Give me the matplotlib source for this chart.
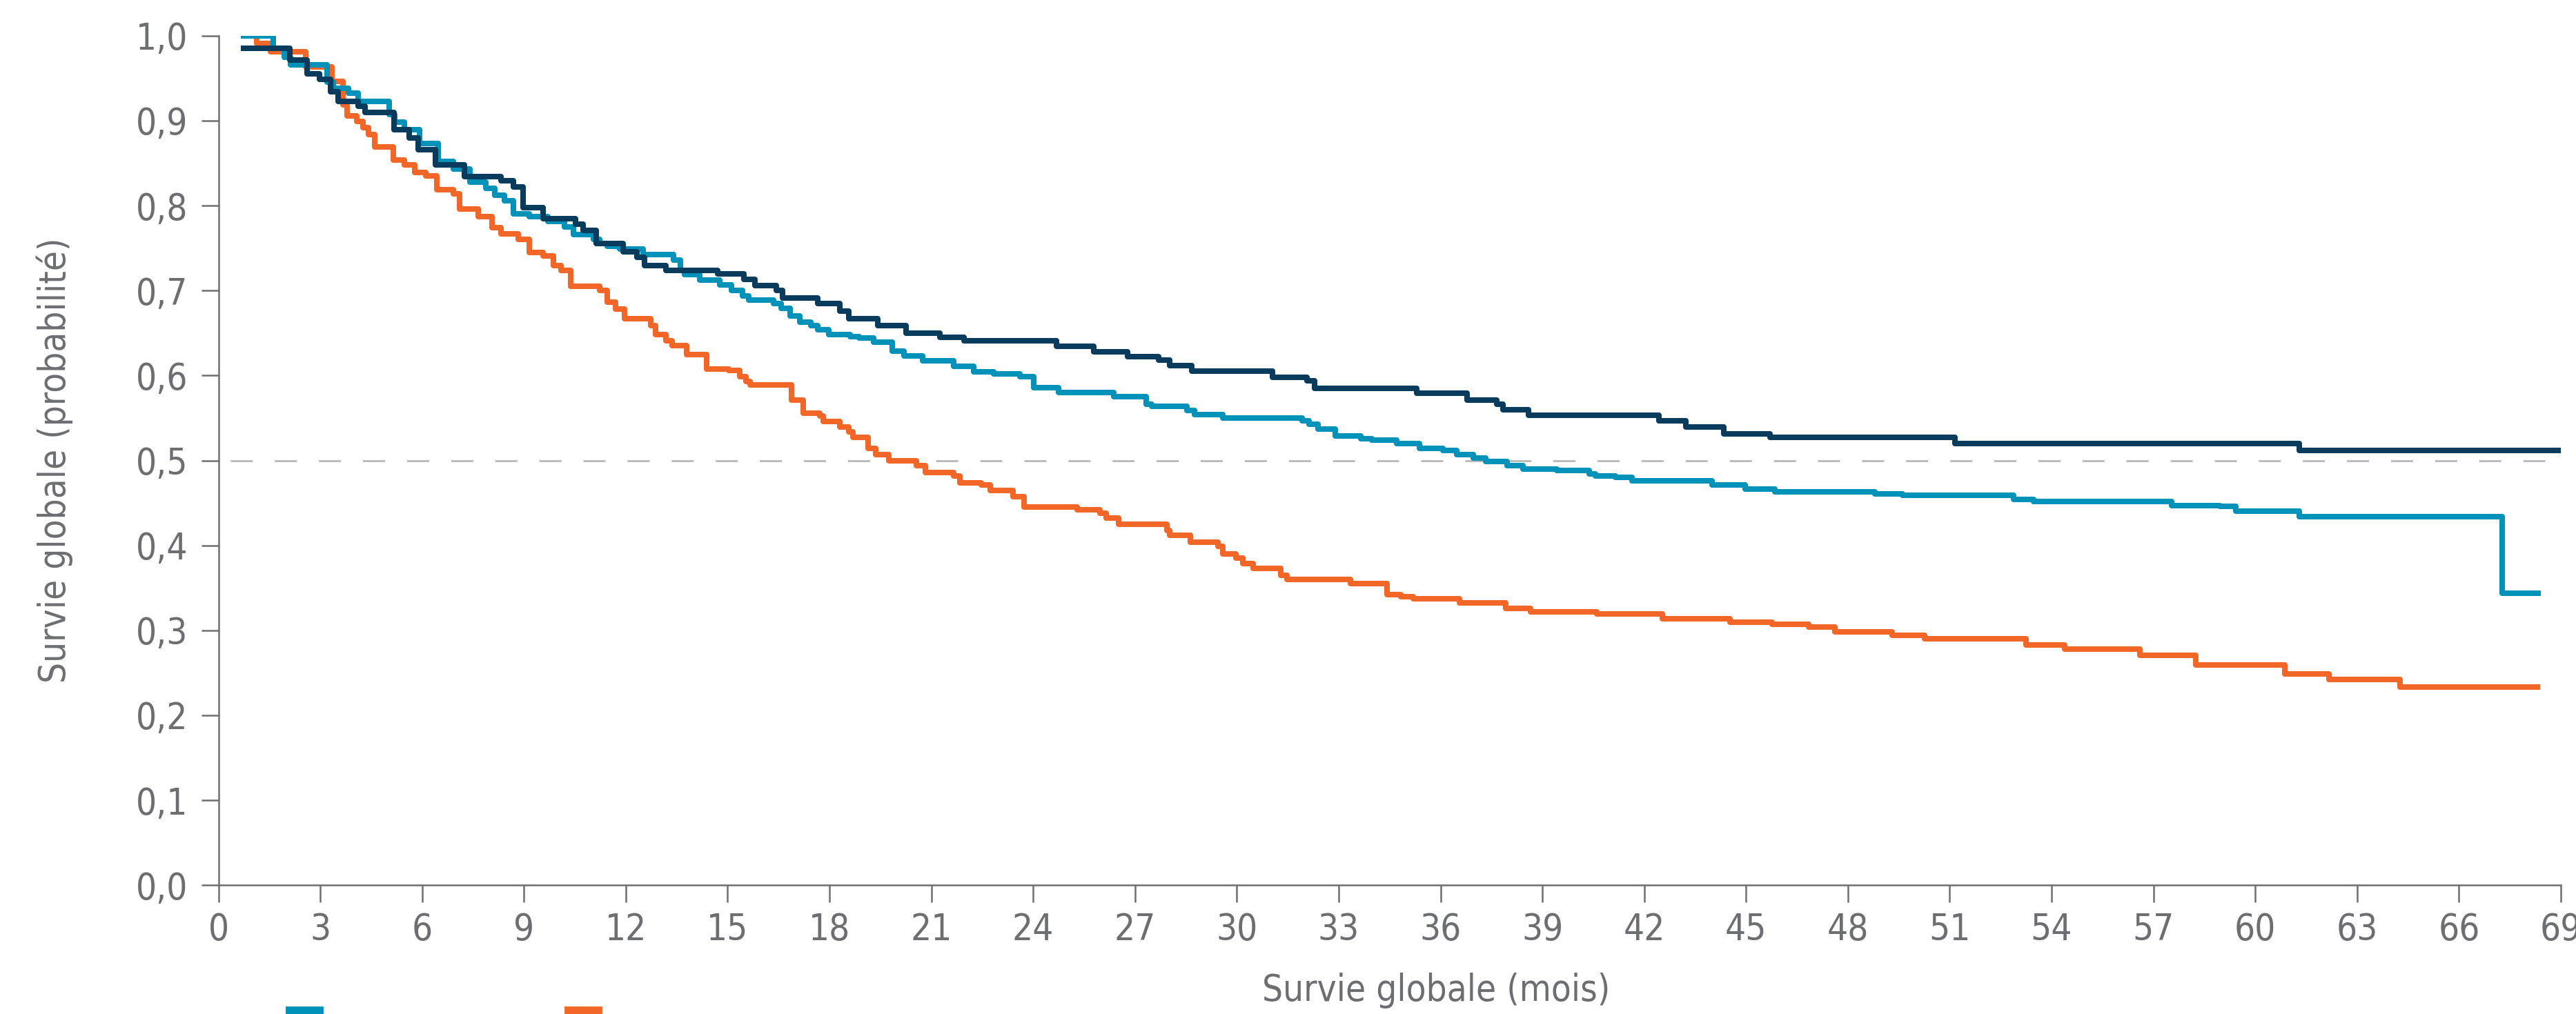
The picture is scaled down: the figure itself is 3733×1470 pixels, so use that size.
import matplotlib
matplotlib.use('Agg')
import matplotlib.pyplot as plt
from matplotlib.patches import Rectangle

# couleurs
navy = '#083b5c'
teal = '#0092b8'
orange = '#f26727'
gris = '#6d6e71'

# courbes de Kaplan-Meier (mois, probabilité)
navy_t = [0.74, 2.10, 2.61, 2.98, 3.30, 3.52, 4.11, 4.31, 5.18, 5.61, 5.88, 6.40, 7.24, 8.33, 8.69,
          8.97, 9.56, 10.51, 10.74, 11.12, 11.92, 12.32, 12.55, 13.19, 14.71, 15.48, 15.80, 16.44,
          16.62, 17.66, 18.30, 18.57, 19.43, 20.25, 21.25, 21.97, 24.69, 25.78, 26.78, 27.69, 28.03,
          28.67, 31.05, 32.07, 32.28, 35.29, 36.79, 37.65, 37.83, 38.60, 42.44, 43.22, 44.35, 45.71,
          51.16, 61.30, 69.0]
navy_s = [0.985, 0.971, 0.955, 0.949, 0.934, 0.923, 0.917, 0.910, 0.889, 0.880, 0.866, 0.848, 0.834,
          0.829, 0.822, 0.798, 0.785, 0.778, 0.771, 0.755, 0.746, 0.739, 0.729, 0.724, 0.720, 0.713,
          0.706, 0.700, 0.691, 0.685, 0.676, 0.667, 0.659, 0.650, 0.645, 0.641, 0.634, 0.628, 0.622,
          0.618, 0.612, 0.605, 0.598, 0.594, 0.585, 0.579, 0.571, 0.566, 0.560, 0.553, 0.547, 0.539,
          0.531, 0.527, 0.520, 0.512, 0.512]

teal_t = [0.74, 1.62, 1.93, 2.12, 3.20, 3.39, 3.84, 4.11, 5.02, 5.20, 5.47, 5.93, 6.47, 6.92, 7.40,
          7.88, 8.15, 8.42, 8.69, 9.15, 9.70, 10.19, 10.46, 11.05, 11.23, 11.46, 11.82, 12.51, 13.41,
          13.60, 13.72, 14.17, 14.76, 15.12, 15.44, 15.62, 16.35, 16.57, 16.85, 17.12, 17.44, 17.66,
          17.98, 18.61, 18.88, 19.29, 19.84, 20.20, 20.75, 21.66, 22.24, 22.83, 23.61, 24.02, 24.74,
          26.37, 27.33, 27.50, 28.53, 28.76, 29.58, 31.93, 32.12, 32.39, 32.89, 33.66, 33.98, 34.70,
          35.38, 36.06, 36.47, 36.97, 37.33, 37.97, 38.42, 39.42, 40.38, 40.56, 41.15, 41.63, 43.99,
          44.98, 45.85, 48.80, 49.61, 52.88, 53.47, 57.54, 58.96, 59.43, 61.30, 67.27, 68.32]
teal_s = [1.0, 0.985, 0.975, 0.966, 0.945, 0.938, 0.932, 0.923, 0.907, 0.898, 0.889, 0.873, 0.852,
          0.843, 0.828, 0.820, 0.812, 0.806, 0.790, 0.787, 0.781, 0.775, 0.766, 0.760, 0.755, 0.752,
          0.749, 0.742, 0.736, 0.724, 0.719, 0.712, 0.707, 0.700, 0.694, 0.689, 0.685, 0.679, 0.670,
          0.663, 0.659, 0.654, 0.648, 0.646, 0.644, 0.639, 0.629, 0.623, 0.617, 0.611, 0.604, 0.602,
          0.599, 0.586, 0.580, 0.575, 0.566, 0.564, 0.559, 0.554, 0.550, 0.547, 0.543, 0.537, 0.529,
          0.526, 0.524, 0.520, 0.514, 0.512, 0.507, 0.503, 0.499, 0.494, 0.490, 0.488, 0.484, 0.482,
          0.480, 0.476, 0.471, 0.466, 0.463, 0.461, 0.459, 0.454, 0.452, 0.447, 0.446, 0.440, 0.434,
          0.344, 0.344]

orange_t = [0.74, 1.12, 1.53, 2.57, 3.35, 3.66, 3.79, 4.07, 4.25, 4.43, 4.61, 5.16, 5.47, 5.79, 6.11,
            6.43, 6.92, 7.11, 7.65, 8.06, 8.33, 8.83, 9.15, 9.56, 9.87, 10.10, 10.37, 11.23, 11.46,
            11.69, 11.96, 12.73, 12.87, 13.19, 13.37, 13.80, 14.39, 15.03, 15.35, 15.53, 15.67, 16.89,
            17.22, 17.71, 17.82, 18.30, 18.57, 18.70, 19.13, 19.37, 19.75, 20.55, 20.82, 21.66, 21.84,
            22.47, 22.74, 23.40, 23.74, 25.29, 25.96, 26.15, 26.51, 27.94, 28.03, 28.62, 29.44, 29.58,
            29.98, 30.17, 30.48, 31.30, 31.48, 33.34, 34.43, 34.84, 35.20, 36.56, 37.92, 38.65, 40.60,
            42.53, 44.53, 45.77, 46.84, 47.62, 49.30, 50.25, 53.24, 54.38, 56.61, 58.25, 60.87, 62.17,
            64.27, 68.30]
orange_s = [1.0, 0.991, 0.981, 0.963, 0.946, 0.919, 0.906, 0.899, 0.892, 0.884, 0.869, 0.854, 0.848,
            0.839, 0.835, 0.819, 0.814, 0.796, 0.787, 0.774, 0.767, 0.760, 0.745, 0.741, 0.729, 0.724,
            0.705, 0.700, 0.686, 0.678, 0.667, 0.659, 0.648, 0.641, 0.635, 0.625, 0.608, 0.606, 0.599,
            0.593, 0.589, 0.571, 0.556, 0.552, 0.546, 0.539, 0.534, 0.527, 0.514, 0.507, 0.500, 0.494,
            0.486, 0.482, 0.474, 0.471, 0.465, 0.457, 0.445, 0.442, 0.438, 0.432, 0.425, 0.418, 0.412,
            0.404, 0.399, 0.390, 0.385, 0.379, 0.373, 0.365, 0.360, 0.355, 0.342, 0.340, 0.337, 0.332,
            0.326, 0.322, 0.319, 0.314, 0.310, 0.307, 0.304, 0.298, 0.294, 0.290, 0.283, 0.278, 0.271,
            0.259, 0.249, 0.242, 0.233, 0.233]

x_ticks = list(range(0, 70, 3))
y_ticks = [i / 10 for i in range(11)]
y_labels = [('%.1f' % v).replace('.', ',') for v in y_ticks]

police = dict(family='DejaVu Sans', stretch='condensed')

# figure
fig = plt.figure(figsize=(18.665, 7.35), dpi=200)
ax = fig.add_axes([0.0848, 0.127, 0.9093, 0.8378])

ax.plot([0.35, 69], [0.5, 0.5], color='#b8b9bb', lw=1.0, dashes=(11.5, 11.5), zorder=1)
ax.step(orange_t, orange_s, where='post', color=orange, lw=2.9, zorder=2)
ax.step(teal_t, teal_s, where='post', color=teal, lw=2.9, zorder=3)
ax.step(navy_t, navy_s, where='post', color=navy, lw=2.9, zorder=4)

ax.set_xlim(0, 69)
ax.set_ylim(0, 1)
for s in ['top', 'right']:
    ax.spines[s].set_visible(False)
for s in ['left', 'bottom']:
    ax.spines[s].set_color(gris)
    ax.spines[s].set_linewidth(0.9)

ax.set_xticks(x_ticks)
ax.set_xticklabels([str(v) for v in x_ticks], color=gris, fontsize=19, **police)
ax.set_yticks(y_ticks)
ax.set_yticklabels(y_labels, color=gris, fontsize=19, **police)
ax.tick_params(axis='both', direction='out', length=9, width=0.9, color=gris)
ax.tick_params(axis='x', pad=5)
ax.tick_params(axis='y', pad=7)
for lab in ax.get_xticklabels():
    lab.set_clip_on(False)

fig.text(0.5575, 0.023, 'Survie globale (mois)', ha='center', va='center',
         color=gris, fontsize=19, **police)
fig.text(0.0212, 0.546, 'Survie globale (probabilité)', ha='center', va='center',
         rotation=90, color=gris, fontsize=19, **police)

# carrés de légende (coupés en bas de l'image)
fig.patches.append(Rectangle((0.1112, -0.01), 0.0139, 0.0168, transform=fig.transFigure,
                             color=teal, clip_on=False))
fig.patches.append(Rectangle((0.2194, -0.01), 0.0139, 0.0168, transform=fig.transFigure,
                             color=orange, clip_on=False))

fig.savefig('out.png', dpi=200)
